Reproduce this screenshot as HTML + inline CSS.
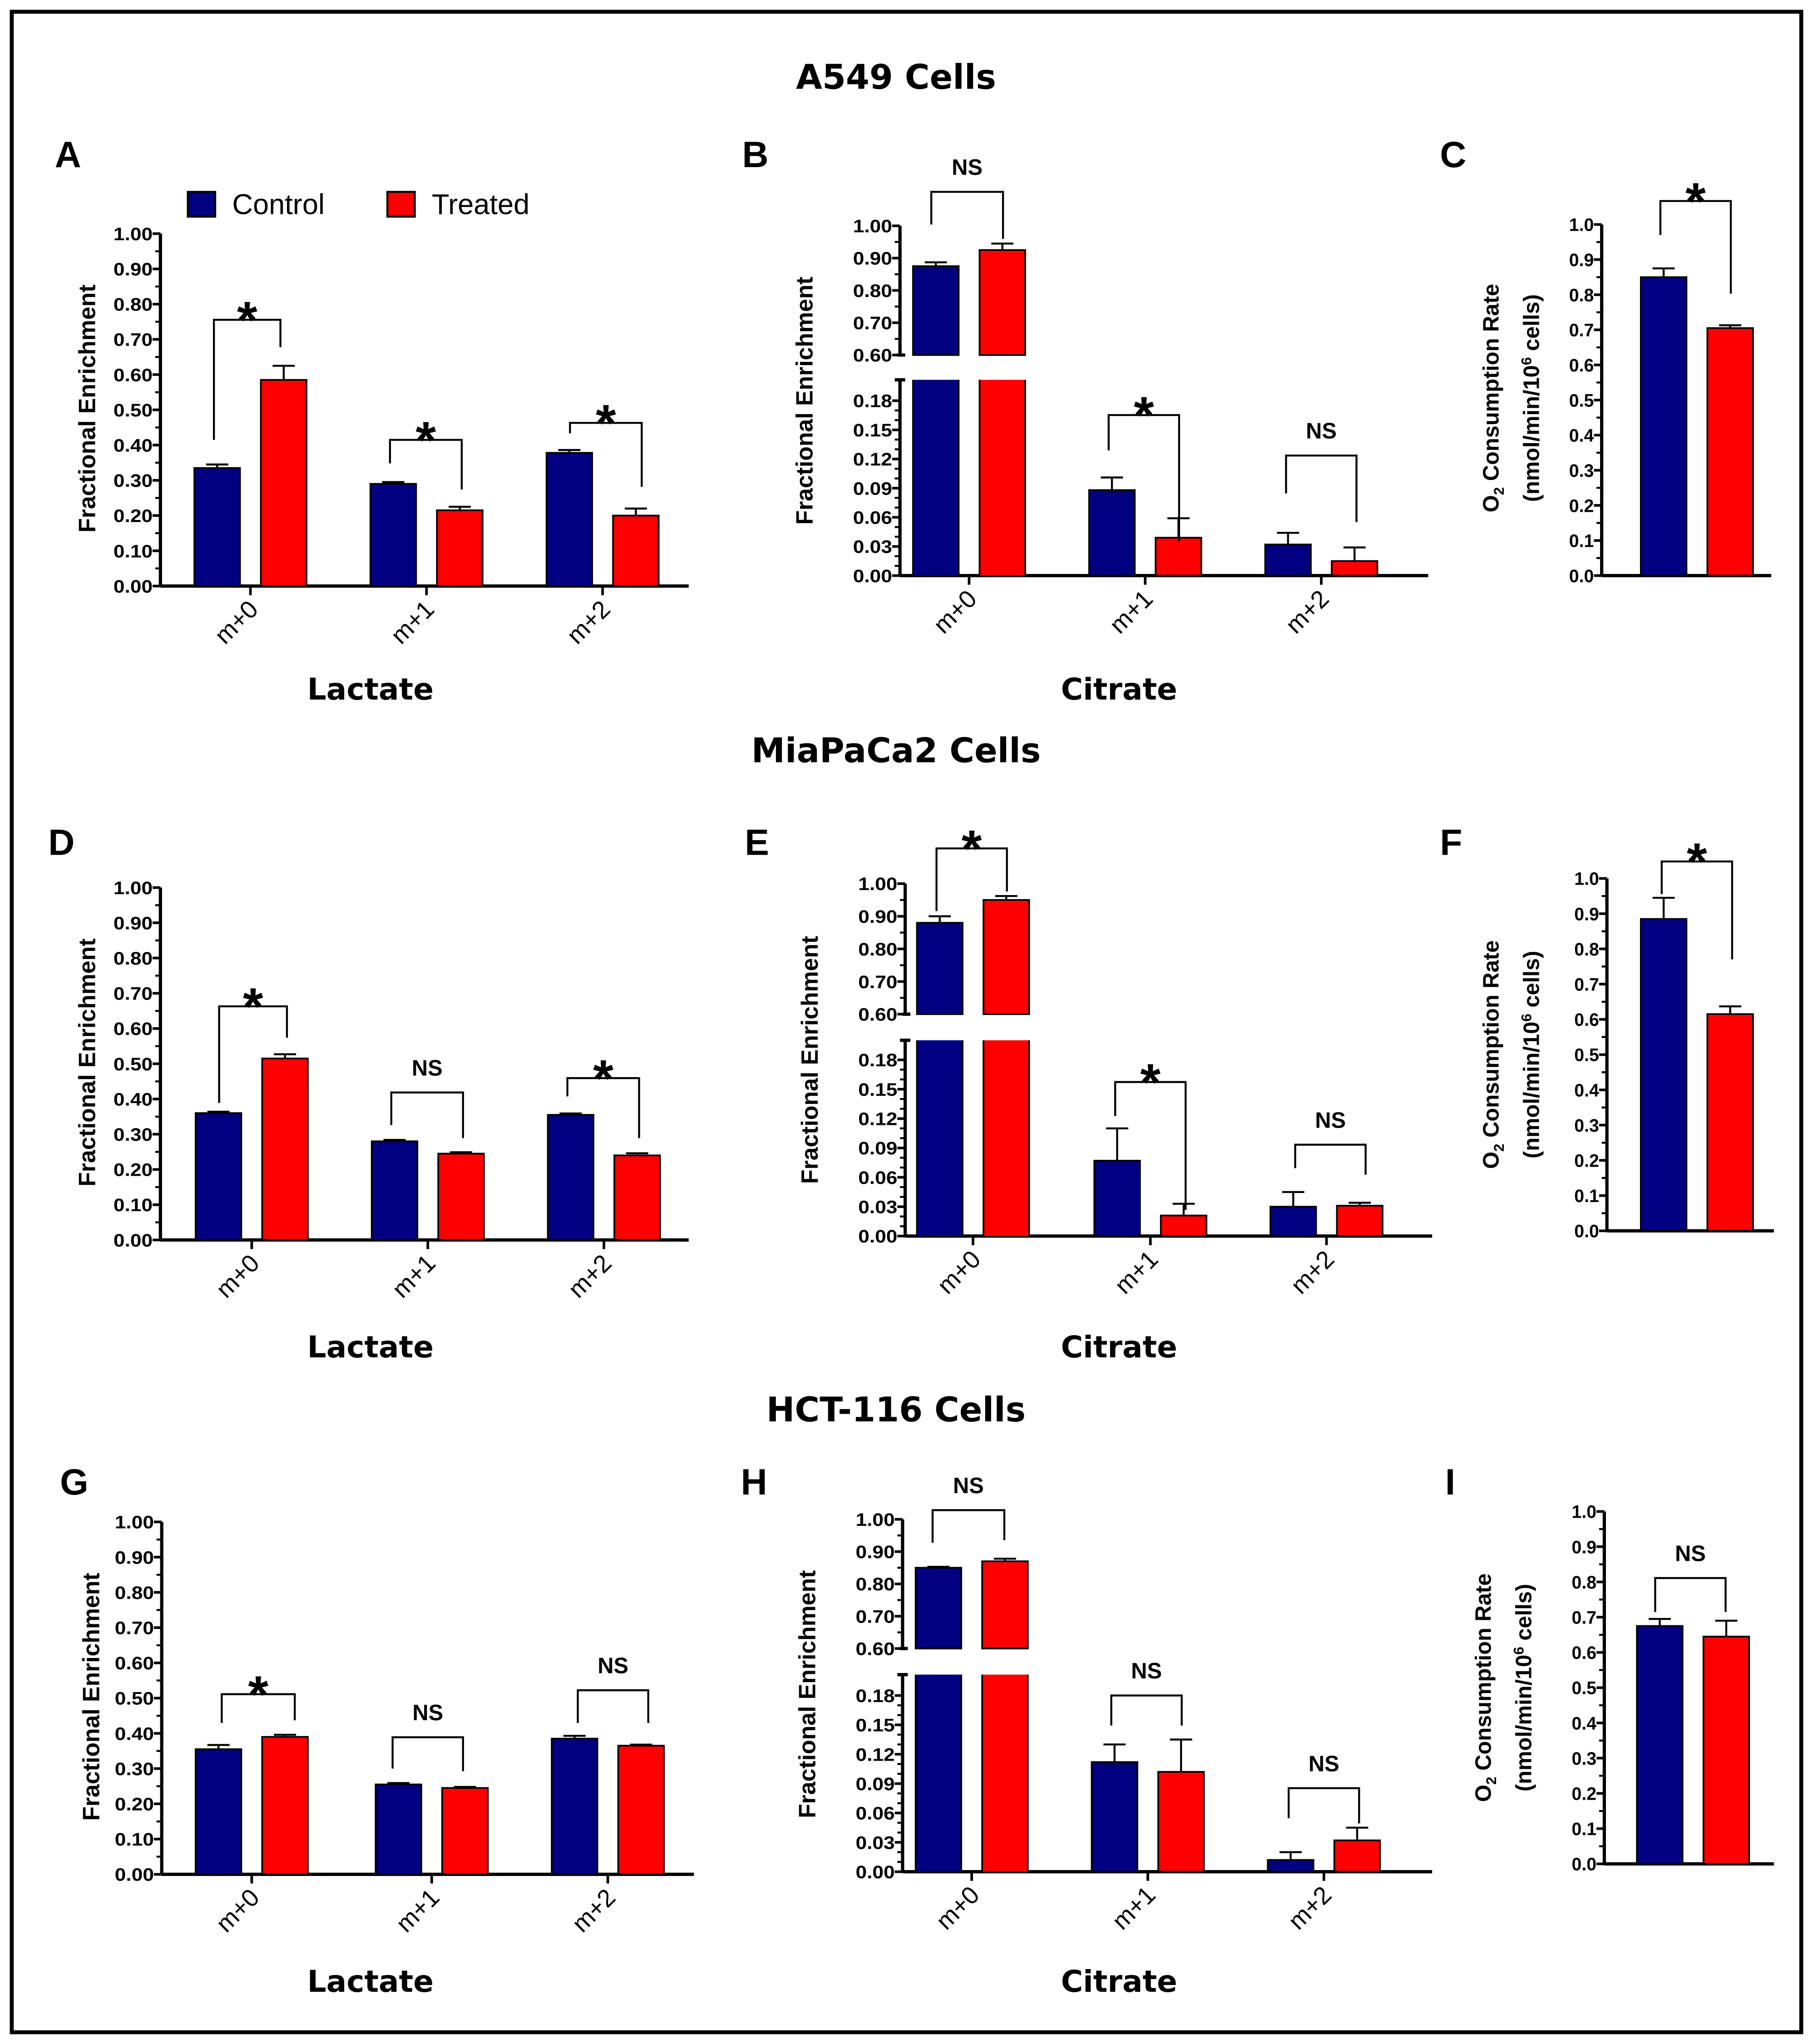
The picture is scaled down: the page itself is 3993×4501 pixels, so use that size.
<!DOCTYPE html>
<html><head><meta charset="utf-8">
<style>
html,body{margin:0;padding:0;background:#fff;}
svg{display:block;}
text{font-family:"Liberation Sans",sans-serif;}
.ttl{font-family:"DejaVu Sans","Liberation Sans",sans-serif;font-weight:bold;}
</style></head>
<body>
<svg id="fig" xmlns="http://www.w3.org/2000/svg" width="3993" height="4501" viewBox="0 0 1390 1566" preserveAspectRatio="none">
<rect x="9" y="9" width="1372" height="1548" fill="#fff" stroke="#000" stroke-width="3"/>
<text class="ttl" x="687" y="68" font-size="26" text-anchor="middle">A549 Cells</text>
<text class="ttl" x="687" y="584" font-size="26" text-anchor="middle">MiaPaCa2 Cells</text>
<text class="ttl" x="687" y="1089" font-size="26" text-anchor="middle">HCT-116 Cells</text>
<g>
<rect x="144" y="147" width="21" height="19" fill="#000080" stroke="#000" stroke-width="1.5"/>
<text x="178" y="164" font-size="22">Control</text>
<rect x="297" y="147" width="21" height="19" fill="#ff0000" stroke="#000" stroke-width="1.5"/>
<text x="331" y="164" font-size="22">Treated</text>
</g>
<g id="plots"></g>
</svg>
<script>
// ---- data ----
const categories = ["m+0","m+1","m+2"];
const ctrlA=[0.335,0.29,0.378], ctrlErrA=[0.01,0.005,0.008], trtA=[0.585,0.215,0.20], trtErrA=[0.04,0.01,0.02];
const ctrlB=[0.875,0.088,0.032], ctrlErrB=[0.012,0.013,0.012], trtB=[0.925,0.039,0.015], trtErrB=[0.02,0.02,0.014];
const ctrlC=[0.85], ctrlErrC=[0.025], trtC=[0.705], trtErrC=[0.008];
const ctrlD=[0.36,0.28,0.355], ctrlErrD=[0.004,0.004,0.004], trtD=[0.515,0.245,0.24], trtErrD=[0.012,0.004,0.006];
const ctrlE=[0.88,0.077,0.03], ctrlErrE=[0.02,0.033,0.015], trtE=[0.95,0.021,0.031], trtErrE=[0.012,0.012,0.003];
const ctrlF=[0.885], ctrlErrF=[0.06], trtF=[0.615], trtErrF=[0.022];
const ctrlG=[0.355,0.255,0.385], ctrlErrG=[0.012,0.004,0.008], trtG=[0.39,0.245,0.365], trtErrG=[0.006,0.003,0.003];
const ctrlH=[0.85,0.112,0.012], ctrlErrH=[0.003,0.018,0.008], trtH=[0.87,0.102,0.032], trtErrH=[0.008,0.033,0.013];
const ctrlI=[0.675], ctrlErrI=[0.02], trtI=[0.645], trtErrI=[0.045];
const fracTicks=["0.00","0.10","0.20","0.30","0.40","0.50","0.60","0.70","0.80","0.90","1.00"];
const brokenTopTicks=["0.60","0.70","0.80","0.90","1.00"];
const brokenLowTicks=["0.00","0.03","0.06","0.09","0.12","0.15","0.18"];
const o2Ticks=["0.0","0.1","0.2","0.3","0.4","0.5","0.6","0.7","0.8","0.9","1.0"];
const sigA=["*","*","*"], sigB=["NS","*","NS"], sigC=["*"], sigD=["*","NS","*"], sigE=["*","*","NS"], sigF=["*"], sigG=["*","NS","NS"], sigH=["NS","NS","NS"], sigI=["NS"];

const NS="http://www.w3.org/2000/svg";
const root=document.getElementById('plots');
function mk(tag,attrs,parent){const e=document.createElementNS(NS,tag);for(const k in attrs)e.setAttribute(k,attrs[k]);(parent||root).appendChild(e);return e;}
const BLUE="#000080", RED="#ff0000";

function drawPanel(p){
  const g=mk('g',{});
  
  
  let y;
  if(p.type==='broken'){
    y=v=> v>=0.6 ? p.topY0+(p.topY1-p.topY0)*(v-0.6)/0.4 : p.y0+(p.low18-p.y0)*v/0.18;
  } else {
    y=v=> p.y0+p.h*v;
  }
  const L=mk('text',{x:p.letterX,y:p.letterY,'font-size':28,'font-weight':'bold'},g);L.textContent=p.id;
  
  const ax=mk('g',{stroke:'#000','stroke-width':2.5,fill:'none'},g);
  
  const tf=14;
  function tick(v,label,major){
    const yy=y(v);
    mk('line',{x1:p.ax-(major?6:4),x2:p.ax,y1:yy,y2:yy,'stroke-width':major?2:1.5},ax);
    if(label!==null){const t=mk('text',{x:p.ax-6,y:yy+5,'font-size':tf,'font-weight':'bold','text-anchor':'end',fill:'#000',stroke:'none',textLength:p.type==='o2'?19:30,lengthAdjust:'spacingAndGlyphs'},g);t.textContent=label;
      }
  }
  if(p.type==='broken'){
    mk('line',{x1:p.ax,x2:p.ax,y1:y(1.0),y2:y(0.6)},ax);
    mk('line',{x1:p.ax,x2:p.ax,y1:p.lowTop,y2:p.y0},ax);
    mk('line',{x1:p.ax-4,x2:p.ax+4,y1:p.lowTop,y2:p.lowTop},ax);
    mk('line',{x1:p.ax-2,x2:p.ax+4,y1:y(0.6),y2:y(0.6)},ax);
    brokenTopTicks.forEach((lab,i)=>{const v=0.6+i*0.1;tick(v,lab,true);if(i<4)tick(v+0.05,null,false);});
    brokenLowTicks.forEach((lab,i)=>{const v=i*0.03;tick(v,lab,true);if(i<6){tick(v+0.01,null,false);tick(v+0.02,null,false);}});
  } else {
    mk('line',{x1:p.ax,x2:p.ax,y1:y(1.0),y2:p.y0},ax);
    const tl=p.type==='o2'?o2Ticks:fracTicks;
    tl.forEach((lab,i)=>{const v=i*0.1;tick(v,lab,true);if(i<10)tick(v+0.05,null,false);});
  }
  mk('line',{x1:p.ax,x2:p.axEnd,y1:p.y0,y2:p.y0},ax);
  if(p.type==='o2'){
    const t=mk('text',{transform:`translate(${p.titleX},${p.titleY}) rotate(-90)`,'font-size':17,'font-weight':'bold','text-anchor':'middle'},g);
    
    t.innerHTML='O<tspan font-size="11" dy="4">2</tspan><tspan dy="-4"> Consumption Rate</tspan>';
    const t2=mk('text',{transform:`translate(${p.titleX+31},${p.titleY}) rotate(-90)`,'font-size':17,'font-weight':'bold','text-anchor':'middle'},g);
    
    t2.innerHTML='(nmol/min/10<tspan font-size="11" dy="-6">6</tspan><tspan dy="6"> cells)</tspan>';
  } else {
    const t=mk('text',{transform:`translate(${p.titleX},${p.titleY}) rotate(-90)`,'font-size':18,'font-weight':'bold','text-anchor':'middle'},g);
    t.textContent='Fractional Enrichment';
    
  }
  const n=p.ctrl.length;
  for(let i=0;i<n;i++){
    const c=p.centers[i];
    [[p.ctrl[i],p.ctrlErr[i],c-43,BLUE,'control'],[p.trt[i],p.trtErr[i],c+8,RED,'treated']].forEach(([v,e,x,col,nm])=>{
      const bg=mk('g',{},g);
      
      
      const top=y(v);
      mk('line',{x1:x+17.5,x2:x+17.5,y1:top,y2:y(v+e),stroke:'#000','stroke-width':1.5},bg);
      mk('line',{x1:x+9,x2:x+26,y1:y(v+e),y2:y(v+e),stroke:'#000','stroke-width':1.5},bg);
      if(p.type==='broken'&&v>=0.6){
        mk('rect',{x:x,y:p.lowTop,width:35,height:p.y0-p.lowTop,fill:col},bg);
        mk('rect',{x:x,y:top,width:35,height:y(0.6)-top,fill:col,stroke:'#000','stroke-width':1.3},bg);
        mk('line',{x1:x,x2:x,y1:p.lowTop,y2:p.y0,stroke:'#000','stroke-width':1.3},bg);
        mk('line',{x1:x+35,x2:x+35,y1:p.lowTop,y2:p.y0,stroke:'#000','stroke-width':1.3},bg);
      } else {
        mk('rect',{x:x,y:top,width:35,height:p.y0-top,fill:col,stroke:'#000','stroke-width':1.3},bg);
      }
    });
    if(n>1){
      mk('line',{x1:c,x2:c,y1:p.y0,y2:p.y0+7,stroke:'#000','stroke-width':2},g);
      const t=mk('text',{transform:`translate(${c+7},${p.y0+19}) rotate(-45)`,'font-size':19,'text-anchor':'end'},g);
      t.textContent=categories[i];
      
    }
  }
  p.brackets.forEach((b,i)=>{
    const bg=mk('g',{},g);
    
    
    mk('polyline',{points:`${b[0]},${b[3]} ${b[0]},${b[2]} ${b[1]},${b[2]} ${b[1]},${b[4]}`,fill:'none',stroke:'#000','stroke-width':1.5},bg);
    const s=p.sig[i];const mid=(b[0]+b[1])/2;
    const t=mk('text',s==='*'?{x:mid,y:b[2]+14,'font-size':40,'font-weight':'bold','text-anchor':'middle'}:{x:mid,y:b[2]-13,'font-size':17,'font-weight':'bold','text-anchor':'middle'},bg);
    t.textContent=s;
  });
  if(p.xtitle){
    const t=mk('text',{x:p.xtitleX,y:p.xtitleY,'font-size':23,'text-anchor':'middle',class:'ttl'},g);
    t.textContent=p.xtitle;
    
  }
}

const panels=[
 {id:'A',type:'frac',ax:123,axEnd:528,y0:449,h:-270,centers:[192,327,462],ctrl:ctrlA,ctrlErr:ctrlErrA,trt:trtA,trtErr:trtErrA,sig:sigA,
  brackets:[[164,215,245,337,266],[299,354,337,355,375],[437,492,324,332,373]],letterX:42,letterY:128,titleX:73,titleY:313,xtitle:'Lactate',xtitleX:284,xtitleY:536},
 {id:'B',type:'broken',ax:690,axEnd:1095,y0:441,low18:307,lowTop:291,topY0:272,topY1:173,centers:[743,878,1013],ctrl:ctrlB,ctrlErr:ctrlErrB,trt:trtB,trtErr:trtErrB,sig:sigB,
  brackets:[[714,769,147,172,183],[850,904,318,345,415],[986,1040,349,378,400]],letterX:569,letterY:128,titleX:623,titleY:307,xtitle:'Citrate',xtitleX:858,xtitleY:536},
 {id:'C',type:'o2',ax:1228,axEnd:1358,y0:441,h:-269,centers:[1301],ctrl:ctrlC,ctrlErr:ctrlErrC,trt:trtC,trtErr:trtErrC,sig:sigC,
  brackets:[[1273,1327,154,180,225]],letterX:1104,letterY:128,titleX:1149,titleY:305},
 {id:'D',type:'frac',ax:123,axEnd:528,y0:950,h:-270,centers:[193,328,463],ctrl:ctrlD,ctrlErr:ctrlErrD,trt:trtD,trtErr:trtErrD,sig:sigD,
  brackets:[[168,220,771,845,795],[300,355,837,862,872],[435,490,826,840,872]],letterX:37,letterY:655,titleX:73,titleY:814,xtitle:'Lactate',xtitleX:284,xtitleY:1040},
 {id:'E',type:'broken',ax:694,axEnd:1098,y0:947,low18:812,lowTop:797,topY0:777,topY1:677,centers:[746,882,1017],ctrl:ctrlE,ctrlErr:ctrlErrE,trt:trtE,trtErr:trtErrE,sig:sigE,
  brackets:[[718,772,650,698,683],[855,909,829,855,927],[993,1047,877,895,900]],letterX:571,letterY:655,titleX:627,titleY:812,xtitle:'Citrate',xtitleX:858,xtitleY:1040},
 {id:'F',type:'o2',ax:1232,axEnd:1360,y0:943,h:-270,centers:[1301],ctrl:ctrlF,ctrlErr:ctrlErrF,trt:trtF,trtErr:trtErrF,sig:sigF,
  brackets:[[1274,1328,660,685,735]],letterX:1104,letterY:655,titleX:1149,titleY:808},
 {id:'G',type:'frac',ax:124,axEnd:532,y0:1436,h:-270,centers:[193,331,466],ctrl:ctrlG,ctrlErr:ctrlErrG,trt:trtG,trtErr:trtErrG,sig:sigG,
  brackets:[[170,226,1298,1320,1318],[301,355,1331,1355,1357],[443,497,1295,1320,1320]],letterX:46,letterY:1145,titleX:76,titleY:1300,xtitle:'Lactate',xtitleX:284,xtitleY:1526},
 {id:'H',type:'broken',ax:692,axEnd:1098,y0:1434,low18:1299,lowTop:1283,topY0:1263,topY1:1164,centers:[745,880,1015],ctrl:ctrlH,ctrlErr:ctrlErrH,trt:trtH,trtErr:trtErrH,sig:sigH,
  brackets:[[715,770,1157,1182,1180],[852,906,1299,1322,1322],[988,1042,1370,1393,1397]],letterX:568,letterY:1145,titleX:625,titleY:1298,xtitle:'Citrate',xtitleX:858,xtitleY:1526},
 {id:'I',type:'o2',ax:1230,axEnd:1360,y0:1428,h:-270,centers:[1298],ctrl:ctrlI,ctrlErr:ctrlErrI,trt:trtI,trtErr:trtErrI,sig:sigI,
  brackets:[[1269,1323,1209,1235,1235]],letterX:1108,letterY:1145,titleX:1143,titleY:1293}
];
panels.forEach(drawPanel);
</script>
</body></html>
